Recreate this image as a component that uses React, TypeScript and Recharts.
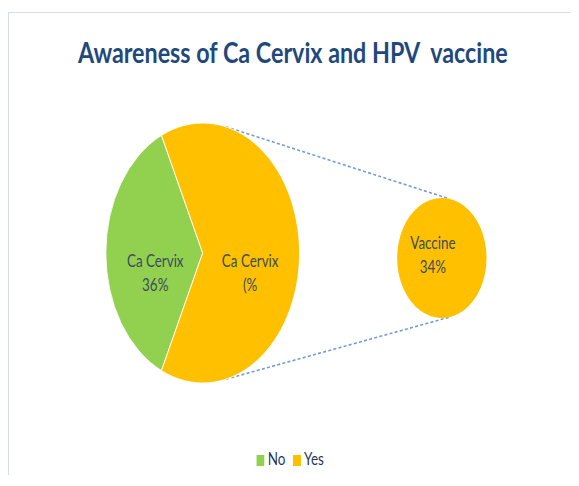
import React from 'react';
import { PieChart, Pie, Cell, Legend, Customized } from 'recharts';

const TITLE = 'Awareness of Ca Cervix and HPV  vaccine';

// main pie
const ringNames = ['No', 'Yes'];
const ringValues = [36, 64];
const ringLabels = [['Ca Cervix', '36%'], ['Ca Cervix', '(%']];
const ringColors = ['#92D050', '#FFC000'];

// secondary pie
const vaccineNames = ['Yes'];
const vaccineValues = [34];
const vaccineLabels = [['Vaccine', '34%']];
const vaccineColors = ['#FFC000'];

// the original is horizontally squashed, so everything is drawn wider then compressed
const SQUASH = 0.745;
const W = 765;
const H = 465;
const BIG = { cx: 260, cy: 240, r: 130, linkAngle: 76 };
const SMALL = { cx: 581, cy: 245, r: 60, linkAngle: 80 };
const FONT = 'Lato, "Open Sans", sans-serif';

const ringData = ringNames.map((name, i) => ({ name, value: ringValues[i] }));
const vaccineData = vaccineNames.map((name, i) => ({ name, value: vaccineValues[i] }));

// green slice sits centred on the left side
const ringTotal = ringValues.reduce((a, b) => a + b, 0);
const ringStart = 180 - (360 * ringValues[0]) / ringTotal / 2;

const makeLabel = (lines: string[][], ratio: number, dx: number, dy: number) => (props: any) => {
  const { cx, cy, midAngle, outerRadius, index } = props;
  const rad = (Math.PI / 180) * midAngle;
  const x = cx + outerRadius * ratio * Math.cos(rad) + dx;
  const y = cy - outerRadius * ratio * Math.sin(rad) + dy;
  return (
    <text x={x} y={y} textAnchor="middle" fill="#3E4C5E" fontSize={18} fontFamily={FONT}>
      {lines[index].map((t, i) => (
        <tspan key={i} x={x} dy={i === 0 ? 0 : 24} style={{ whiteSpace: 'pre' }}>
          {t}
        </tspan>
      ))}
    </text>
  );
};

const onCircle = (c: { cx: number; cy: number; r: number }, deg: number) => {
  const rad = (Math.PI / 180) * deg;
  return { x: c.cx + c.r * Math.cos(rad), y: c.cy - c.r * Math.sin(rad) };
};

function Overlay() {
  return (
    <g>
      <text
        x={381}
        y={50}
        textAnchor="middle"
        fill="#1F497D"
        fontSize={28}
        fontWeight={700}
        fontFamily={FONT}
        textLength={577}
        lengthAdjust="spacingAndGlyphs"
        style={{ whiteSpace: 'pre' }}
      >
        {TITLE}
      </text>
      {[1, -1].map((s) => {
        const a = onCircle(BIG, s * BIG.linkAngle);
        const b = onCircle(SMALL, s * SMALL.linkAngle);
        return (
          <line
            key={s}
            x1={a.x}
            y1={a.y}
            x2={b.x}
            y2={b.y}
            stroke="#6F9BD8"
            strokeWidth={1.6}
            strokeDasharray="4 3"
          />
        );
      })}
    </g>
  );
}

export default function App() {
  return (
    <div
      style={{
        position: 'relative',
        top: 4,
        width: 570,
        height: 466,
        overflow: 'hidden',
        borderLeft: '1px solid #D3DEEE',
        borderTop: '1px solid #D3DEEE',
        background: '#fff',
      }}
    >
      <div style={{ position: 'absolute', left: 0, top: 0, transform: `scaleX(${SQUASH})`, transformOrigin: '0 0' }}>
        <PieChart width={W} height={H} margin={{ top: 0, right: 0, bottom: 9, left: 0 }}>
          <Customized component={Overlay} />
          <Pie
            data={ringData}
            dataKey="value"
            nameKey="name"
            cx={BIG.cx}
            cy={BIG.cy}
            outerRadius={BIG.r}
            startAngle={ringStart}
            endAngle={ringStart + 360}
            stroke="#fff"
            strokeWidth={1}
            labelLine={false}
            label={makeLabel(ringLabels, 0.49, 0, 14)}
            isAnimationActive={false}
          >
            {ringData.map((d, i) => (
              <Cell key={d.name} fill={ringColors[i]} />
            ))}
          </Pie>
          <Pie
            data={vaccineData}
            dataKey="value"
            nameKey="name"
            cx={SMALL.cx}
            cy={SMALL.cy}
            outerRadius={SMALL.r}
            startAngle={90}
            endAngle={450}
            stroke="none"
            legendType="none"
            labelLine={false}
            label={makeLabel(vaccineLabels, 0, -12, -9)}
            isAnimationActive={false}
          >
            {vaccineData.map((d, i) => (
              <Cell key={d.name} fill={vaccineColors[i]} stroke="none" />
            ))}
          </Pie>
          <Legend
            verticalAlign="bottom"
            align="center"
            iconType="square"
            iconSize={11}
            wrapperStyle={{ fontFamily: FONT, fontSize: 18 }}
            formatter={(v: string) => <span style={{ color: '#1F3864' }}>{v}</span>}
          />
        </PieChart>
      </div>
    </div>
  );
}
